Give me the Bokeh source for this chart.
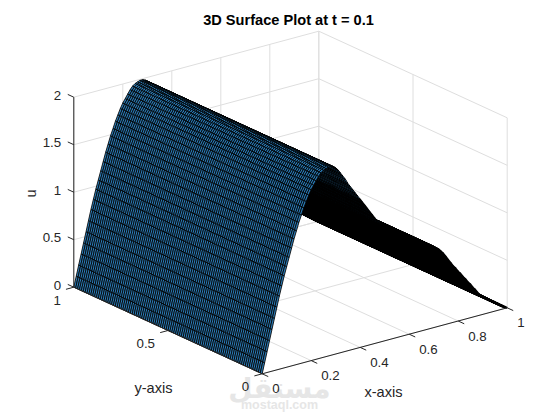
import numpy as np
from bokeh.plotting import figure
from bokeh.models import Range1d, ColumnDataSource
from bokeh.core.properties import value
from bokeh.embed import file_html
from bokeh.resources import INLINE

title_text = "3D Surface Plot at t = 0.1"
x_ticks = [0, 0.2, 0.4, 0.6, 0.8, 1]
y_ticks = [0, 0.5, 1]
z_ticks = [0, 0.5, 1, 1.5, 2]
x_tick_labels = ["0", "0.2", "0.4", "0.6", "0.8", "1"]
y_tick_labels = ["0", "0.5", "1"]
z_tick_labels = ["0", "0.5", "1", "1.5", "2"]

# u(x) at x = 0, 0.01, ... 1; the surface does not vary with y
u_profile = [
    0.00, 0.11, 0.22, 0.33, 0.44, 0.55, 0.66, 0.77, 0.87, 0.97,
    1.06, 1.15, 1.24, 1.33, 1.41, 1.49, 1.56, 1.63, 1.69, 1.75,
    1.80, 1.84, 1.88, 1.92, 1.95, 1.97, 1.98, 1.99, 1.99, 1.98,
    1.96, 1.93, 1.89, 1.85, 1.81, 1.76, 1.72, 1.68, 1.64, 1.60,
    1.56, 1.52, 1.48, 1.44, 1.40, 1.36, 1.32, 1.28, 1.25, 1.23,
    1.21, 1.19, 1.17, 1.15, 1.14, 1.12, 1.10, 1.08, 1.06, 1.05,
    1.03, 1.01, 0.99, 0.97, 0.96, 0.94, 0.92, 0.90, 0.88, 0.87,
    0.85, 0.83, 0.81, 0.78, 0.75, 0.71, 0.67, 0.63, 0.59, 0.56,
    0.52, 0.49, 0.45, 0.42, 0.38, 0.35, 0.31, 0.28, 0.24, 0.21,
    0.19, 0.17, 0.15, 0.13, 0.11, 0.09, 0.07, 0.05, 0.03, 0.01,
    0.00,
]
x_grid = np.arange(101) / 100
y_grid = np.arange(101) / 100

# projection of the MATLAB-style plot box onto the page
ORIGIN = (261.7, 373.3)
X_VEC = (245.0, -66.0)
Y_VEC = (-188.4, -86.6)
Z_VEC = (0.0, -95.0)
VIEW = (-0.528, -0.687, 0.25)


def proj(x, y, z):
    return (ORIGIN[0] + x * X_VEC[0] + y * Y_VEC[0] + z * Z_VEC[0],
            ORIGIN[1] + x * X_VEC[1] + y * Y_VEC[1] + z * Z_VEC[1])


def seg(p, a, b, color, w):
    ax, ay = proj(*a)
    bx, by = proj(*b)
    p.segment([ax], [ay], [bx], [by], line_color=color, line_width=w)


W, H = 544, 412
p = figure(width=W, height=H, output_backend="svg", toolbar_location=None,
           x_range=Range1d(0, W), y_range=Range1d(H, 0),
           min_border=0, outline_line_color=None)
p.axis.visible = False
p.grid.visible = False

GRID = "#dedede"
INK = "#262626"
FONT = value("Liberation Sans")


def label(px, py, s, align="center", size="13.3px", style="normal", angle=0.0, color=INK, font=FONT):
    p.text([px], [py], text=[s], text_font=font, text_font_size=size, text_color=color,
           text_align=align, text_baseline="middle", text_font_style=style, angle=angle)


# faint site mark of the reference, underneath everything
label(279, 388, "مستقل", "center", "28px", "bold", color="#e6e6e6", font=value("DejaVu Sans"))
label(279, 404, "mostaql.com", "center", "12.5px", "bold", color="#e6e6e6")

# walls and floor
for xt in x_ticks:
    seg(p, (xt, 1, 0), (xt, 1, 2), GRID, 1)
    seg(p, (xt, 0, 0), (xt, 1, 0), GRID, 1)
for yt in y_ticks:
    seg(p, (1, yt, 0), (1, yt, 2), GRID, 1)
    seg(p, (0, yt, 0), (1, yt, 0), GRID, 1)
for zt in z_ticks:
    seg(p, (0, 1, zt), (1, 1, zt), GRID, 1)
    seg(p, (1, 0, zt), (1, 1, zt), GRID, 1)

# surface: quads painted far to near
xs, ys, depth, widths = [], [], [], []
for i in range(len(x_grid) - 1):
    for j in range(len(y_grid) - 1):
        xa, xb = x_grid[i], x_grid[i + 1]
        ya, yb = y_grid[j], y_grid[j + 1]
        ua, ub = u_profile[i], u_profile[i + 1]
        c = [proj(xa, ya, ua), proj(xb, ya, ub), proj(xb, yb, ub), proj(xa, yb, ua)]
        xs.append([q[0] for q in c])
        ys.append([q[1] for q in c])
        depth.append(VIEW[0] * (xa + xb) / 2 + VIEW[1] * (ya + yb) / 2 + VIEW[2] * (ua + ub) / 2)
        widths.append(0.85 if xa < 0.3 else (1.0 if xa < 0.4 else (1.2 if xa < 0.48 else 1.9)))
order = np.argsort(depth)
src = ColumnDataSource(dict(xs=[xs[k] for k in order], ys=[ys[k] for k in order],
                            w=[widths[k] for k in order]))
p.patches("xs", "ys", source=src, fill_color="#2b7ab4", line_color="#000000", line_width="w")

# axes
seg(p, (0, 0, 0), (1, 0, 0), INK, 1)
seg(p, (0, 0, 0), (0, 1, 0), INK, 1)
seg(p, (0, 1, 0), (0, 1, 2), INK, 1)

TICK = 0.032
for xt in x_ticks:
    seg(p, (xt, 0, 0), (xt, -TICK, 0), INK, 1)
for yt in y_ticks:
    seg(p, (0, yt, 0), (-TICK, yt, 0), INK, 1)
for zt in z_ticks:
    seg(p, (0, 1, zt), (0, 1 + TICK, zt), INK, 1)

for xt, s in zip(x_ticks, x_tick_labels):
    a, b = proj(xt, 0, 0)
    label(a + 10, b + 15, s, "left")
for yt, s in zip(y_ticks, y_tick_labels):
    a, b = proj(0, yt, 0)
    label(a - 13, b + 13, s, "right")
for zt, s in zip(z_ticks, z_tick_labels):
    a, b = proj(0, 1, zt)
    label(a - 12.6, b - 2, s, "right")

label(288, 19, title_text, "center", "14.6px", "bold", color="#000000")
label(153, 387, "y-axis", size="14.6px")
label(383, 391, "x-axis", size="14.6px")
label(30, 193, "u", size="14.6px", angle=np.pi / 2)

open("out.html", "w").write(file_html(p, INLINE))
